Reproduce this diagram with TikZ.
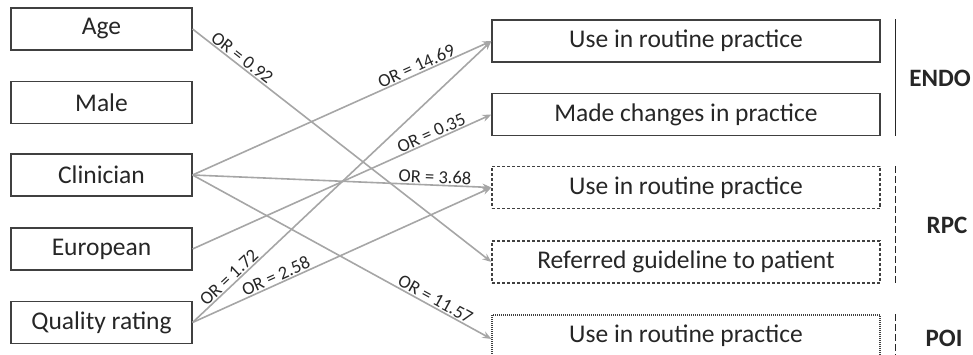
\documentclass[tikz,border=0pt]{standalone}
\usepackage{fontspec}
\setmainfont{Carlito}
\usetikzlibrary{arrows.meta}

\definecolor{boxline}{HTML}{404040}
\definecolor{linkgray}{HTML}{A6A6A6}
\definecolor{txtgray}{HTML}{262626}

\tikzset{
 factor/.style={draw=boxline,line width=1.1pt,minimum width=181pt,minimum height=42pt,
  inner sep=0pt,text=txtgray,font=\fontsize{25.5}{28}\selectfont},
 outcome/.style={factor,minimum width=388pt},
 rpcbox/.style={outcome,dash pattern=on 3pt off 2pt},
 poibox/.style={outcome,dash pattern=on 1pt off 1pt},
 link/.style={draw=linkgray,line width=1.6pt,-{Stealth[length=9pt,width=7pt]}},
 orlabel/.style={sloped,above,inner sep=1pt,text=txtgray,font=\fontsize{18.5}{20}\selectfont},
 grouptag/.style={text=txtgray,font=\fontsize{25}{28}\selectfont\bfseries},
 groupbar/.style={draw=txtgray,line width=1.6pt}
}

\begin{document}
\begin{tikzpicture}[x=1pt,y=-1pt]
\useasboundingbox (0,0) rectangle (973,355);

% predictors
\node[factor] (age) at (101.5,29) {Age};
\node[factor] (male) at (101.5,102.5) {Male};
\node[factor] (clin) at (101.5,175) {Clinician};
\node[factor] (euro) at (101.5,249) {European};
\node[factor] (qual) at (101.5,322.5) {Quality rating};

% outcomes
\node[outcome] (endouse) at (686,41) {Use in routine practice};
\node[outcome] (endochg) at (686,114.5) {Made changes in practice};
\node[rpcbox] (rpcuse) at (686,187.5) {Use in routine practice};
\node[rpcbox] (rpcref) at (686,262) {Referred guideline to patient};
\node[poibox] (poiuse) at (686,336) {Use in routine practice};

% group bars and tags
\draw[groupbar] ([xshift=15pt]endouse.north east) -- ([xshift=15pt]endochg.south east);
\draw[groupbar,dash pattern=on 7pt off 3pt] ([xshift=15pt]rpcuse.north east) -- ([xshift=15pt]rpcref.south east);
\draw[groupbar,dash pattern=on 7pt off 3pt] ([xshift=15pt]poiuse.north east) -- ([xshift=15pt]poiuse.south east);
\node[grouptag] (endo) at (940,78) {ENDO};
\node[grouptag] (rpc) at (947,225) {RPC};
\node[grouptag] (poi) at (944,338) {POI};

% associations
\draw[link] (age.east) -- node[orlabel,pos=0.15] (orage) {OR = 0.92} (rpcref.west);
\draw[link] (clin.east) -- node[orlabel,pos=0.76] (orclinA) {OR = 14.69} (endouse.west);
\draw[link] (euro.east) -- node[orlabel,pos=0.81] (oreuro) {OR = 0.35} (endochg.west);
\draw[link] (clin.east) -- node[orlabel,pos=0.81] (orclinB) {OR = 3.68} (rpcuse.west);
\draw[link] (qual.east) -- node[orlabel,pos=0.14] (orqualA) {OR = 1.72} (endouse.west);
\draw[link] (qual.east) -- node[orlabel,pos=0.29] (orqualB) {OR = 2.58} (rpcuse.west);
\draw[link] (clin.east) -- node[orlabel,pos=0.80] (orclinC) {OR = 11.57} ([yshift=-3pt]poiuse.west);

\end{tikzpicture}
\end{document}
